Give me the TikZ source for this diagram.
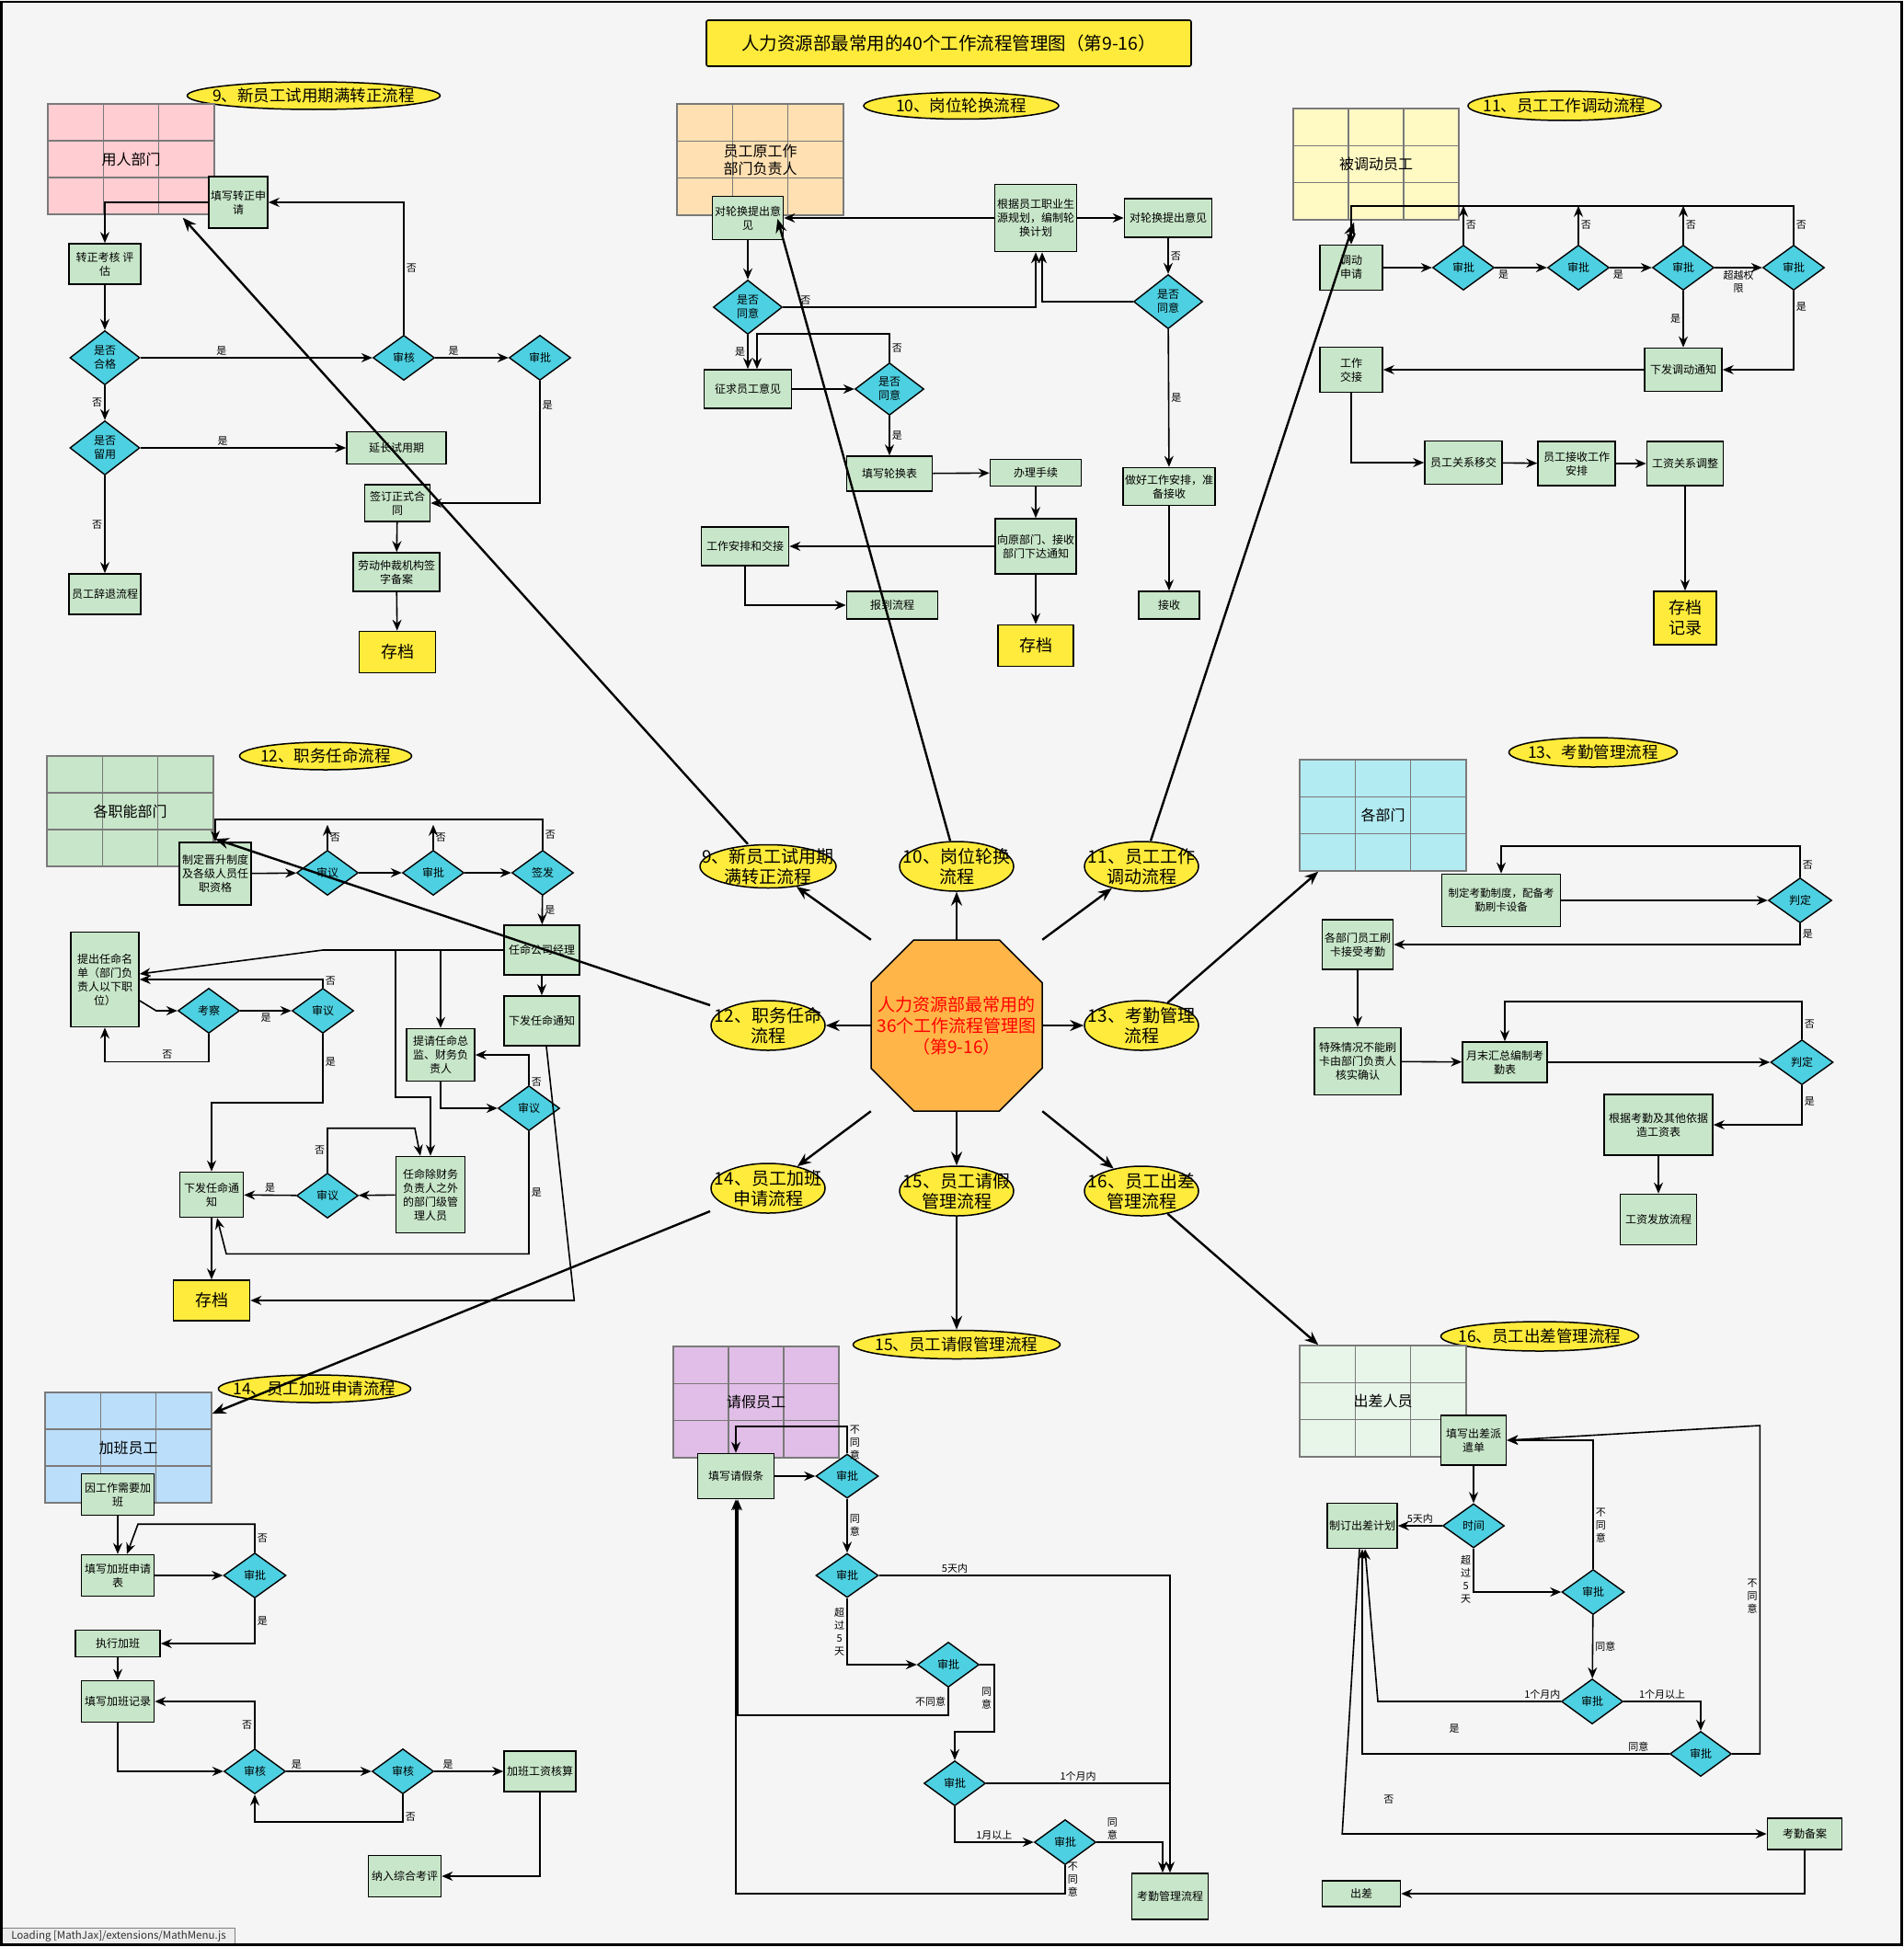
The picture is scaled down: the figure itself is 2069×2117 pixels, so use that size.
\documentclass[tikz,border=0pt]{standalone}
\usepackage{fontspec}
\setmainfont{Noto Sans CJK SC}
\usetikzlibrary{arrows.meta,shapes.geometric,calc}
\definecolor{paper}{HTML}{F5F5F5}
\definecolor{boxgreen}{HTML}{C8E6C9}
\definecolor{deccyan}{HTML}{4DD0E1}
\definecolor{hilite}{HTML}{FFEB3B}
\definecolor{hubfill}{HTML}{FFB547}
\definecolor{gridgray}{HTML}{7A7A7A}
\definecolor{lanepink}{HTML}{FFCDD2}
\definecolor{lanepeach}{HTML}{FFE0B2}
\definecolor{laneyellow}{HTML}{FFF9C4}
\definecolor{lanegreen}{HTML}{C8E6C9}
\definecolor{lanecyan}{HTML}{B2EBF2}
\definecolor{laneblue}{HTML}{BBDEFB}
\definecolor{lanepurple}{HTML}{E1BEE7}
\definecolor{lanemint}{HTML}{E8F5E9}
\begin{document}
\begin{tikzpicture}[x=1pt,y=-1pt,
  sz/.style 2 args={minimum width=#1,minimum height=#2},
  box/.style={draw=black,line width=1.6pt,fill=boxgreen,align=center,inner sep=1pt,font=\fontsize{12}{15}\selectfont},
  dec/.style={diamond,draw=black,line width=1.4pt,fill=deccyan,align=center,inner sep=0pt,minimum width=67,minimum height=49,font=\fontsize{12}{15}\selectfont},
  store/.style={box,fill=hilite,font=\fontsize{18}{22}\selectfont},
  oval/.style={ellipse,draw=black,line width=1.5pt,fill=hilite,inner sep=0pt},
  ovaltext/.style={inner sep=0pt,align=center,font=\fontsize{17.5}{21}\selectfont},
  bigoval/.style={oval,minimum width=124,minimum height=54},
  bigtext/.style={inner sep=0pt,align=center,font=\fontsize{19}{22}\selectfont},
  lane/.style={draw=gridgray,line width=1.5pt,align=center,inner sep=0pt,font=\fontsize{16}{19}\selectfont,
    path picture={\foreach \k in {1,2}{
      \draw[gridgray,line width=1.5pt] ($(path picture bounding box.north west)!\k/3!(path picture bounding box.north east)$) -- ($(path picture bounding box.south west)!\k/3!(path picture bounding box.south east)$);
      \draw[gridgray,line width=1.5pt] ($(path picture bounding box.north west)!\k/3!(path picture bounding box.south west)$) -- ($(path picture bounding box.north east)!\k/3!(path picture bounding box.south east)$);}}},
  lbl/.style={font=\fontsize{11}{14}\selectfont,align=center,inner sep=2pt},
  wire/.style={line width=1.6pt},
  flow/.style={line width=1.6pt,-{Stealth[length=12pt,width=10pt,inset=4pt]}},
  flowbig/.style={line width=2.4pt,-{Stealth[length=15pt,width=12pt,inset=5pt]}}]
\useasboundingbox (0,0) rectangle (2069,2117);
\fill[paper] (0,0) rectangle (2069,2117);

\node[draw=black,line width=1.6pt,fill=hilite,rounded corners=2pt,sz={527}{50},font=\fontsize{19.5}{23}\selectfont] (title) at (1031.5,47) {人力资源部最常用的40个工作流程管理图（第9-16）};

\node[oval,sz={275}{30}] (t9) at (341,104) {};
\node[ovaltext] (t9text) at (t9) {9、新员工试用期满转正流程};
\node[lane,fill=lanepink,sz={181}{120}] (lane9) at (142.5,173) {用人部门};
\node[box,sz={64}{56}] (p9apply) at (259,220) {填写转正申\\请};
\node[box,sz={78}{44}] (p9eval) at (114,287) {转正考核 评\\估};
\node[dec,sz={76}{59}] (p9pass) at (114,389) {是否\\合格};
\node[dec] (p9check) at (439,389) {审核};
\node[dec] (p9ok) at (587,389) {审批};
\node[dec,sz={76}{59}] (p9keep) at (114,487) {是否\\留用};
\node[box,sz={108}{35}] (p9extend) at (431,487) {延长试用期};
\node[box,sz={71}{40}] (p9sign) at (432,547) {签订正式合\\同};
\node[box,sz={94}{42}] (p9record) at (431,622) {劳动仲裁机构签\\字备案};
\node[store,sz={83}{45}] (p9file) at (432,709) {存档};
\node[box,sz={78}{44}] (p9quit) at (114,646) {员工辞退流程};
\draw[flow] (p9apply.west) -| (p9eval.north);
\draw[flow] (p9eval) -- (p9pass);
\draw[flow] (p9pass) -- node[lbl,above,pos=.35] {是} (p9check);
\draw[flow] (p9check) -- node[lbl,above,pos=.25] {是} (p9ok);
\draw[flow] (p9check.north) |- node[lbl,right,pos=.25] {否} (p9apply.east);
\draw[flow] (p9ok.south) |- node[lbl,right,pos=.1] {是} (p9sign.east);
\draw[flow] (p9pass) -- node[lbl,left] {否} (p9keep);
\draw[flow] (p9keep) -- node[lbl,above,pos=.4] {是} (p9extend);
\draw[flow] (p9keep) -- node[lbl,left] {否} (p9quit);
\draw[flow] (p9sign) -- (p9record);
\draw[flow] (p9record) -- (p9file);

\node[oval,sz={212}{29}] (t10) at (1045,115) {};
\node[ovaltext] (t10text) at (t10) {10、岗位轮换流程};
\node[lane,fill=lanepeach,sz={181}{121}] (lane10) at (826.5,173.5) {员工原工作\\部门负责人};
\node[box,sz={77}{47}] (p10viewa) at (813,237) {对轮换提出意\\见};
\node[box,sz={89}{73}] (p10plan) at (1126,237) {根据员工职业生\\源规划，编制轮\\换计划};
\node[box,sz={95}{42}] (p10viewb) at (1270,237) {对轮换提出意见};
\node[dec,sz={75}{59}] (p10agreea) at (813,334) {是否\\同意};
\node[dec,sz={75}{59}] (p10agreeb) at (1270,328) {是否\\同意};
\node[box,sz={95}{42}] (p10ask) at (813,423) {征求员工意见};
\node[dec,sz={75}{57}] (p10agreec) at (967,423) {是否\\同意};
\node[box,sz={93}{38}] (p10form) at (967,515) {填写轮换表};
\node[box,sz={99}{29}] (p10proc) at (1126,514) {办理手续};
\node[box,sz={88}{60}] (p10notify) at (1126,594) {向原部门、接收\\部门下达通知};
\node[box,sz={95}{42}] (p10handover) at (810,594) {工作安排和交接};
\node[box,sz={99}{30}] (p10report) at (970,658) {报到流程};
\node[store,sz={82}{45}] (p10file) at (1126,702) {存档};
\node[box,sz={100}{41}] (p10prep) at (1271,529) {做好工作安排，准\\备接收};
\node[box,sz={66}{30}] (p10recv) at (1271,658) {接收};
\draw[flow] (p10plan) -- (p10viewa);
\draw[flow] (p10plan) -- (p10viewb);
\draw[flow] (p10viewa) -- (p10agreea);
\draw[flow] (p10agreea.east) -| node[lbl,above right,pos=.03] {否} (p10plan.south);
\draw[flow] (p10agreea) -- node[lbl,left] {是} (p10ask);
\draw[flow] (p10ask) -- (p10agreec);
\draw[flow] (p10agreec.north) -- node[lbl,right] {否} ++(0,-31) -| ($(p10ask.north)+(10,0)$);
\draw[flow] (p10agreec) -- node[lbl,right] {是} (p10form);
\draw[flow] (p10form) -- (p10proc);
\draw[flow] (p10proc) -- (p10notify);
\draw[flow] (p10notify) -- (p10handover);
\draw[flow] (p10handover.south) |- (p10report.west);
\draw[flow] (p10notify) -- (p10file);
\draw[flow] (p10viewb) -- node[lbl,right] {否} (p10agreeb);
\draw[flow] (p10agreeb.west) -| ($(p10plan.south)+(7,0)$);
\draw[flow] (p10agreeb) -- node[lbl,right] {是} (p10prep);
\draw[flow] (p10prep) -- (p10recv);

\node[oval,sz={210}{32}] (t11) at (1701,115) {};
\node[ovaltext] (t11text) at (t11) {11、员工工作调动流程};
\node[lane,fill=laneyellow,sz={180}{121}] (lane11) at (1496,178.5) {被调动员工};
\node[box,sz={68}{49}] (p11apply) at (1469,291) {调动\\申请};
\node[dec] (p11oka) at (1591,291) {审批};
\node[dec] (p11okb) at (1716,291) {审批};
\node[dec] (p11okc) at (1830,291) {审批};
\node[dec] (p11okd) at (1950,291) {审批};
\node[box,sz={84}{47}] (p11notice) at (1830,402) {下发调动通知};
\node[box,sz={68}{49}] (p11handover) at (1469,402) {工作\\交接};
\node[box,sz={84}{47}] (p11move) at (1591,503) {员工关系移交};
\node[box,sz={84}{48}] (p11accept) at (1714,504) {员工接收工作\\安排};
\node[box,sz={83}{48}] (p11pay) at (1832,504) {工资关系调整};
\node[store,sz={68}{58}] (p11file) at (1832,672) {存档\\记录};
\draw[flow] (p11apply) -- (p11oka);
\draw[flow] (p11oka) -- node[lbl,below right,pos=.02] {是} (p11okb);
\draw[flow] (p11okb) -- node[lbl,below right,pos=.02] {是} (p11okc);
\draw[flow] (p11okc) -- node[lbl,below] {超越权\\限} (p11okd);
\draw[flow] (p11oka.north) -- node[lbl,right] {否} ++(0,-42);
\draw[flow] (p11okb.north) -- node[lbl,right] {否} ++(0,-42);
\draw[flow] (p11okc.north) -- node[lbl,right] {否} ++(0,-42);
\draw[flow] (p11okd.north) |- node[lbl,right,pos=.25] {否} ($(p11apply.north)+(0,-42)$) -- (p11apply.north);
\draw[flow] (p11okc) -- node[lbl,left] {是} (p11notice);
\draw[flow] (p11okd.south) |- node[lbl,right,pos=.1] {是} (p11notice.east);
\draw[flow] (p11notice) -- (p11handover);
\draw[flow] (p11handover.south) |- (p11move.west);
\draw[flow] (p11move) -- (p11accept);
\draw[flow] (p11accept) -- (p11pay);
\draw[flow] (p11pay) -- (p11file);

\node[oval,sz={187}{30}] (t12) at (354,822) {};
\node[ovaltext] (t12text) at (t12) {12、职务任命流程};
\node[lane,fill=lanegreen,sz={181}{120}] (lane12) at (141.5,882) {各职能部门};
\node[box,sz={78}{68}] (p12rule) at (234,950) {制定晋升制度\\及各级人员任\\职资格};
\node[dec] (p12review) at (356,949) {审议};
\node[dec] (p12ok) at (471,949) {审批};
\node[dec] (p12sign) at (590,949) {签发};
\node[box,sz={82}{54}] (p12gm) at (589,1033) {任命公司经理};
\node[box,sz={82}{54}] (p12notea) at (589,1110) {下发任命通知};
\node[box,sz={74}{103}] (p12list) at (114,1065) {提出任命名\\单（部门负\\责人以下职\\位）};
\node[dec] (p12inspect) at (227,1099) {考察};
\node[dec] (p12reviewb) at (351,1099) {审议};
\node[box,sz={74}{57}] (p12cfo) at (479,1147) {提请任命总\\监、财务负\\责人};
\node[dec] (p12reviewc) at (575,1205) {审议};
\node[box,sz={75}{83}] (p12mgr) at (468,1299) {任命除财务\\负责人之外\\的部门级管\\理人员};
\node[dec] (p12reviewd) at (356,1300) {审议};
\node[box,sz={69}{49}] (p12noteb) at (230,1299) {下发任命通\\知};
\node[store,sz={83}{44}] (p12file) at (230,1414) {存档};
\draw[flow] (p12rule) -- (p12review);
\draw[flow] (p12review) -- (p12ok);
\draw[flow] (p12ok) -- (p12sign);
\draw[flow] (p12review.north) -- node[lbl,right] {否} ++(0,-27);
\draw[flow] (p12ok.north) -- node[lbl,right] {否} ++(0,-27);
\draw[flow] (p12sign.north) |- node[lbl,right,pos=.25] {否} ($(p12rule.north)+(0,-24)$) -- (p12rule.north);
\draw[flow] (p12sign) -- node[lbl,right] {是} (p12gm);
\draw[flow] (p12gm) -- (p12notea);
\draw[flow] ($(p12notea.south)+(5,0)$) -- ($(p12file.east)+(352,0)$) -- (p12file.east);
\draw[flow] (p12gm.west) -- (p12gm.west -| p12reviewb) -- ($(p12list.east)+(0,-6)$);
\draw[flow] (p12gm.west -| p12cfo) -- (p12cfo);
\draw[flow] (p12gm.west -| p12mgr.west) |- ($(p12mgr.north)+(0,-64)$) -- (p12mgr.north);
\draw[flow] (p12cfo.south) |- (p12reviewc.west);
\draw[flow] (p12reviewc.north) |- node[lbl,right,pos=.05] {否} (p12cfo.east);
\draw[flow] (p12reviewc.south) |- node[lbl,right,pos=.25] {是} ($(p12noteb.south)+(16,39)$) -- ($(p12noteb.south)+(6,0)$);
\draw[flow] (p12mgr) -- (p12reviewd);
\draw[flow] (p12reviewd) -- node[lbl,above] {是} (p12noteb);
\draw[flow] (p12reviewd.north) |- node[lbl,left,pos=.25] {否} ($(p12mgr.north)+(-17,-30)$) -- ($(p12mgr.north)+(-11,0)$);
\draw[flow] ($(p12list.east)+(0,23)$) -- ($(p12inspect.west)+(-23,0)$) -- (p12inspect.west);
\draw[flow] (p12inspect) -- node[lbl,below] {是} (p12reviewb);
\draw[flow] (p12reviewb.north) |- node[lbl,above right,pos=0] {否} (p12list.east);
\draw[flow] (p12inspect.south) |- node[lbl,above,pos=.7] {否} ($(p12list.south)+(0,37)$) -- (p12list.south);
\draw[flow] (p12reviewb.south) |- node[lbl,right,pos=.2] {是} ($(p12noteb.north)+(0,-74.5)$) -- (p12noteb.north);
\draw[flow] (p12noteb) -- (p12file);

\node[oval,sz={183}{32}] (t13) at (1732,818) {};
\node[ovaltext] (t13text) at (t13) {13、考勤管理流程};
\node[lane,fill=lanecyan,sz={181}{121}] (lane13) at (1503.5,886.5) {各部门};
\node[box,sz={129}{57},font=\fontsize{11.5}{15}\selectfont] (p13rule) at (1632,979) {制定考勤制度，配备考\\勤刷卡设备};
\node[dec,sz={69}{49}] (p13checka) at (1957,979) {判定};
\node[box,sz={77}{54}] (p13swipe) at (1476,1027) {各部门员工刷\\卡接受考勤};
\node[box,sz={94}{73}] (p13special) at (1476,1154) {特殊情况不能刷\\卡由部门负责人\\核实确认};
\node[box,sz={92}{44}] (p13sum) at (1636,1155) {月末汇总编制考\\勤表};
\node[dec,sz={68}{49}] (p13checkb) at (1959,1155) {判定};
\node[box,sz={118}{66}] (p13salary) at (1803,1223) {根据考勤及其他依据\\造工资表};
\node[box,sz={83}{55}] (p13pay) at (1803,1326) {工资发放流程};
\draw[flow] (p13rule) -- (p13checka);
\draw[flow] (p13checka.north) |- node[lbl,right,pos=.2] {否} ($(p13rule.north)+(0,-29.5)$) -- (p13rule.north);
\draw[flow] (p13checka.south) |- node[lbl,right,pos=.25] {是} (p13swipe.east);
\draw[flow] (p13swipe) -- (p13special);
\draw[flow] (p13special) -- (p13sum);
\draw[flow] (p13sum) -- (p13checkb);
\draw[flow] (p13checkb.north) |- node[lbl,right,pos=.2] {否} ($(p13sum.north)+(0,-43)$) -- (p13sum.north);
\draw[flow] (p13checkb.south) |- node[lbl,right,pos=.2] {是} (p13salary.east);
\draw[flow] (p13salary) -- (p13pay);

\node[oval,sz={209}{30}] (t14) at (342,1510) {};
\node[ovaltext] (t14text) at (t14) {14、员工加班申请流程};
\node[lane,fill=laneblue,sz={181}{120}] (lane14) at (139.5,1574) {加班员工};
\node[box,sz={79}{45}] (p14need) at (128,1625) {因工作需要加\\班};
\node[box,sz={79}{45}] (p14form) at (128,1713) {填写加班申请\\表};
\node[dec,sz={68}{49}] (p14ok) at (277,1713) {审批};
\node[box,sz={92}{29}] (p14do) at (128,1787) {执行加班};
\node[box,sz={79}{45}] (p14log) at (128,1850) {填写加班记录};
\node[dec] (p14checka) at (277,1926) {审核};
\node[dec] (p14checkb) at (438,1926) {审核};
\node[box,sz={78}{44}] (p14calc) at (587,1926) {加班工资核算};
\node[box,sz={79}{45}] (p14eval) at (440,2040) {纳入综合考评};
\draw[flow] (p14need) -- (p14form);
\draw[flow] (p14form) -- (p14ok);
\draw[flow] (p14ok.north) |- node[lbl,right,pos=.25] {否} ($(p14form.north)+(22,-32.5)$) -- ($(p14form.north)+(10,0)$);
\draw[flow] (p14ok.south) |- node[lbl,right,pos=.25] {是} (p14do.east);
\draw[flow] (p14do) -- (p14log);
\draw[flow] (p14log.south) |- (p14checka.west);
\draw[flow] (p14checka.north) |- node[lbl,left,pos=.25] {否} (p14log.east);
\draw[flow] (p14checka) -- node[lbl,above,pos=.12] {是} (p14checkb);
\draw[flow] (p14checkb.south) |- node[lbl,right,pos=.4] {否} ($(p14checka.south)+(0,30)$) -- (p14checka.south);
\draw[flow] (p14checkb) -- node[lbl,above,pos=.2] {是} (p14calc);
\draw[flow] (p14calc.south) |- (p14eval.east);

\node[oval,sz={225}{31}] (t15) at (1040,1462) {};
\node[ovaltext] (t15text) at (t15) {15、员工请假管理流程};
\node[lane,fill=lanepurple,sz={180}{121}] (lane15) at (822,1524.5) {请假员工};
\node[box,sz={83}{49}] (p15form) at (800,1605) {填写请假条};
\node[dec,sz={68}{48}] (p15oka) at (921,1605) {审批};
\node[dec,sz={68}{48}] (p15okb) at (921,1713) {审批};
\node[dec] (p15okc) at (1031,1810) {审批};
\node[dec] (p15okd) at (1038,1939) {审批};
\node[dec] (p15oke) at (1158,2003) {审批};
\node[box,sz={83}{50}] (p15hr) at (1272,2062) {考勤管理流程};
\draw[flow] (p15form) -- (p15oka);
\draw[flow] (p15oka.north) |- node[lbl,right,pos=.2] {不\\同\\意} ($(p15form.north)+(0,-28.5)$) -- (p15form.north);
\draw[flow] (p15oka) -- node[lbl,right] {同\\意} (p15okb);
\draw[flow] (p15okb.east) -| node[lbl,above,pos=.13] {5天内} (p15hr.north);
\draw[flow] (p15okb.south) |- node[lbl,left,pos=.25] {超\\过\\5\\天} (p15okc.west);
\draw[flow] (p15okc.south) -- node[lbl,left] {不同意} ++(0,29.5) -| ($(p15form.south)+(2,0)$);
\draw[flow] (p15okc.east) -| node[lbl,left,pos=.75] {同\\意} ($(p15okd.north)+(43,-31)$) -| (p15okd.north);
\draw[wire] (p15okd.east) -- node[lbl,above] {1个月内} (p15okd.east -| p15hr.north);
\draw[flow] (p15okd.south) |- node[lbl,above,pos=.75] {1月以上} (p15oke.west);
\draw[flow] (p15oke.east) -| node[lbl,above,pos=.12] {同\\意} ($(p15hr.north)+(-8,0)$);
\draw[flow] (p15oke.south) -- node[lbl,right] {不\\同\\意} ++(0,30.5) -| (p15form.south);

\node[oval,sz={215}{32}] (t16) at (1674,1453) {};
\node[ovaltext] (t16text) at (t16) {16、员工出差管理流程};
\node[lane,fill=lanemint,sz={181}{121}] (lane16) at (1503.5,1523.5) {出差人员};
\node[box,sz={71}{54}] (p16form) at (1602,1566) {填写出差派\\遣单};
\node[dec,sz={67}{48}] (p16time) at (1602,1659) {时间};
\node[box,sz={76}{49}] (p16plan) at (1481,1659) {制订出差计划};
\node[dec,sz={68}{49}] (p16oka) at (1732,1731) {审批};
\node[dec] (p16okb) at (1731,1850) {审批};
\node[dec] (p16okc) at (1849,1907) {审批};
\node[box,sz={81}{34}] (p16log) at (1962,1994) {考勤备案};
\node[box,sz={85}{28}] (p16go) at (1480,2059) {出差};
\draw[flow] (p16form) -- (p16time);
\draw[flow] (p16time) -- node[lbl,above] {5天内} (p16plan);
\draw[flow] (p16time.south) |- node[lbl,left,pos=.35] {超\\过\\5\\天} (p16oka.west);
\draw[flow] (p16oka.north) |- node[lbl,right,pos=.17] {不\\同\\意} (p16form.east);
\draw[flow] (p16oka) -- node[lbl,right] {同意} (p16okb);
\draw[flow] (p16okb.west) -- node[lbl,above,pos=.1] {1个月内} ($(p16plan.south |- p16okb.west)+(17,0)$) -- ($(p16plan.south)+(3,0)$);
\draw[flow] (p16okb.east) -| node[lbl,above,pos=.25] {1个月以上} (p16okc.north);
\draw[flow] (p16okc.west) -| node[lbl,above,pos=.05] {同意} node[lbl,above=20pt,pos=.35] {是} (p16plan.south);
\draw[flow] (p16okc.east) -| node[lbl,left,pos=.74] {不\\同\\意} ($(p16form.east)+(275,-16)$) -- (p16form.east);
\draw[flow] ($(p16plan.south)+(-3,0)$) -- ($(p16log.west)+(-461.5,0)$) -- node[lbl,above=30pt,pos=.11] {否} (p16log.west);
\draw[flow] (p16log.south) |- (p16go.east);

\coordinate (hubc) at (1040,1115);
\draw[fill=hubfill,line width=1.5pt] ($(hubc)+(-46.5,-93)$) -- ($(hubc)+(46.5,-93)$) -- ($(hubc)+(93,-46.5)$) -- ($(hubc)+(93,46.5)$) -- ($(hubc)+(46.5,93)$) -- ($(hubc)+(-46.5,93)$) -- ($(hubc)+(-93,46.5)$) -- ($(hubc)+(-93,-46.5)$) -- cycle;
\node[sz={186}{186},inner sep=0pt,align=center,text=red,font=\fontsize{19}{23}\selectfont] (hub) at (hubc) {人力资源部最常用的\\36个工作流程管理图\\（第9-16）};
\node[bigoval,sz={148}{47}] (c9) at (835,942) {};
\node[bigoval] (c10) at (1040,942) {};
\node[bigoval] (c11) at (1241,942) {};
\node[bigoval] (c12) at (835,1115) {};
\node[bigoval] (c13) at (1241,1115) {};
\node[bigoval] (c14) at (835,1292) {};
\node[bigoval] (c15) at (1040,1295) {};
\node[bigoval] (c16) at (1241,1295) {};
\node[bigtext] (c9text) at (c9) {9、新员工试用期\\满转正流程};
\node[bigtext] (c10text) at (c10) {10、岗位轮换\\流程};
\node[bigtext] (c11text) at (c11) {11、员工工作\\调动流程};
\node[bigtext] (c12text) at (c12) {12、职务任命\\流程};
\node[bigtext] (c13text) at (c13) {13、考勤管理\\流程};
\node[bigtext] (c14text) at (c14) {14、员工加班\\申请流程};
\node[bigtext] (c15text) at (c15) {15、员工请假\\管理流程};
\node[bigtext] (c16text) at (c16) {16、员工出差\\管理流程};
\draw[flowbig] (hub.north west) -- (c9);
\draw[flowbig] (hub) -- (c10);
\draw[flowbig] (hub.north east) -- (c11);
\draw[flowbig] (hub) -- (c12);
\draw[flowbig] (hub) -- (c13);
\draw[flowbig] (hub.south west) -- (c14);
\draw[flowbig] (hub) -- (c15);
\draw[flowbig] (hub.south east) -- (c16);

\coordinate (tip9) at ($(lane9.south east)+(-35,3)$);
\coordinate (tip10) at ($(p10viewa.east)+(-7,1)$);
\coordinate (tip11) at ($(lane11.south)+(-24,2)$);
\coordinate (tip12) at ($(p12rule.north)+(0,-3)$);
\coordinate (tip13) at ($(lane13.south west)+(21,0)$);
\coordinate (tip14) at ($(lane14.east)+(0,-37)$);
\coordinate (tip16) at ($(lane16.north west)+(21,0)$);
\draw[flowbig] ($(c9.north)+(-22,0)$) -- (tip9);
\draw[flowbig] ($(c10.north)+(-7,0)$) -- (tip10);
\draw[flowbig] ($(c11.north)+(10,0)$) -- (tip11);
\draw[flowbig] ($(c12.center)+(-63,-22)$) -- (tip12);
\draw[flowbig] (c13) -- (tip13);
\draw[flowbig] ($(c14.center)+(-63,25)$) -- (tip14);
\draw[flowbig] (c15) -- (t15);
\draw[flowbig] (c16) -- (tip16);

\node[anchor=south west,draw=gray,line width=1pt,fill=black!7,sz={253}{17},inner sep=2pt,text=black!80,font=\fontsize{11.5}{13}\selectfont] (mathjax) at (2,2114) {Loading [MathJax]/extensions/MathMenu.js};
\draw[line width=2.6pt] (1.3,2) rectangle (2067.2,2114.5);
\end{tikzpicture}
\end{document}
